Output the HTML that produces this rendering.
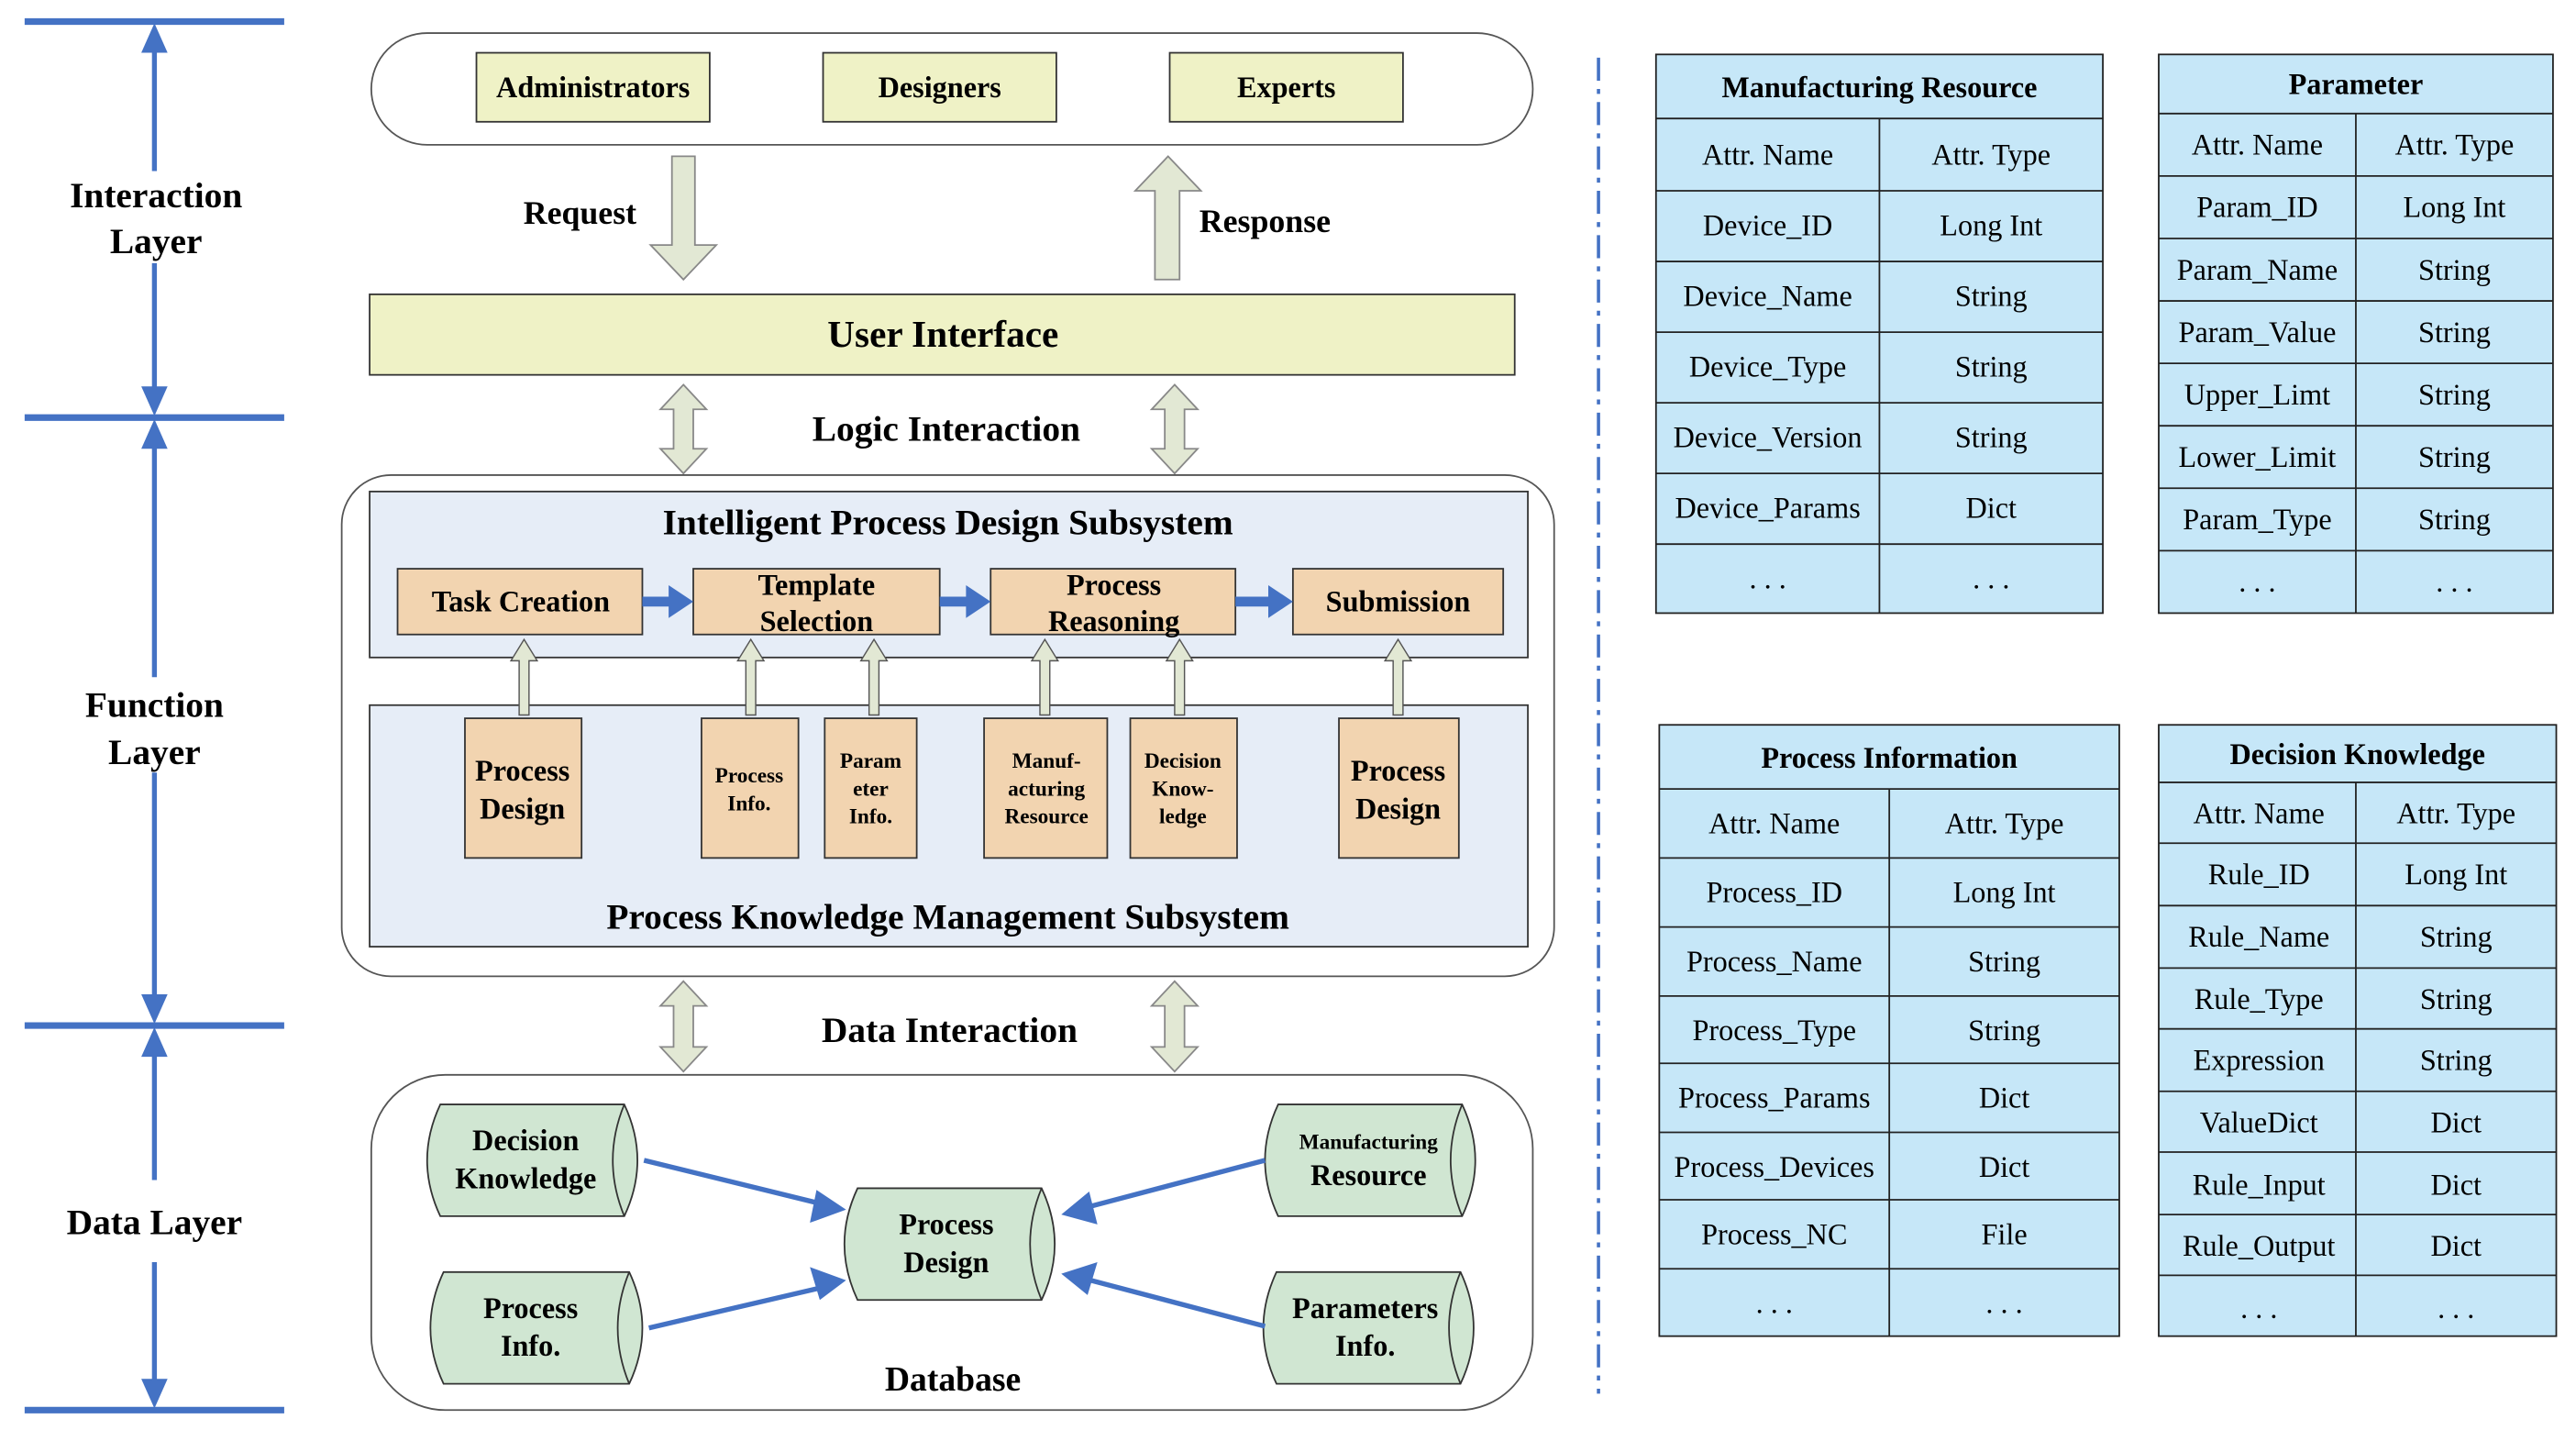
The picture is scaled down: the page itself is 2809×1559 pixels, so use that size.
<!DOCTYPE html>
<html><head><meta charset="utf-8"><style>
html,body{margin:0;padding:0;background:#fff}
svg{display:block}
text{font-family:"Liberation Serif",serif}
.b{font-weight:bold}
</style></head><body>
<svg width="2809" height="1559" viewBox="0 0 1568 870" xmlns="http://www.w3.org/2000/svg">
<defs>
<marker id="ah" markerWidth="6" markerHeight="6" refX="5" refY="3" orient="auto" markerUnits="strokeWidth"><path d="M0,0 L6,3 L0,6 z" fill="#4472C4"/></marker>
</defs>
<!-- left axis -->
<g stroke="#4472C4" stroke-width="4">
<line x1="15" y1="13" x2="173" y2="13"/><line x1="15" y1="254" x2="173" y2="254"/>
<line x1="15" y1="624" x2="173" y2="624"/><line x1="15" y1="858" x2="173" y2="858"/>
</g>
<g stroke="#4472C4" stroke-width="3">
<line x1="94" y1="28" x2="94" y2="104"/><line x1="94" y1="160" x2="94" y2="240"/>
<line x1="94" y1="270" x2="94" y2="412"/><line x1="94" y1="470" x2="94" y2="610"/>
<line x1="94" y1="640" x2="94" y2="718"/><line x1="94" y1="768" x2="94" y2="842"/>
</g>
<g fill="#4472C4">
<path d="M94,14 L86,32 L102,32z"/><path d="M94,253 L86,235 L102,235z"/>
<path d="M94,255 L86,273 L102,273z"/><path d="M94,623 L86,605 L102,605z"/>
<path d="M94,625 L86,643 L102,643z"/><path d="M94,857 L86,839 L102,839z"/>
</g>
<g class="b" font-size="22" text-anchor="middle">
<text x="95" y="126" class="b">Interaction</text><text x="95" y="154" class="b">Layer</text>
<text x="94" y="436" class="b">Function</text><text x="94" y="465" class="b">Layer</text>
<text x="94" y="751" class="b">Data Layer</text>
</g>
<!-- dash-dot separator -->
<line x1="973" y1="35" x2="973" y2="848" stroke="#4472C4" stroke-width="2" stroke-dasharray="14,5,3,5"/>

<!-- interaction top -->
<rect x="226" y="20" width="707" height="68" rx="34" fill="#fff" stroke="#555" stroke-width="1"/>
<g fill="#eff2c6" stroke="#333" stroke-width="1">
<rect x="290" y="32" width="142" height="42"/><rect x="501" y="32" width="142" height="42"/><rect x="712" y="32" width="142" height="42"/>
</g>
<g font-size="18" text-anchor="middle" font-weight="bold">
<text x="361" y="59">Administrators</text><text x="572" y="59">Designers</text><text x="783" y="59">Experts</text>
</g>
<!-- request/response -->
<path d="M409,95 L423,95 L423,149 L436,149 L416,170 L396,149 L409,149z" fill="#e2e8d4" stroke="#888"/>
<path d="M703,170 L718,170 L718,116 L731,116 L711,95 L691,116 L703,116z" fill="#e2e8d4" stroke="#888"/>
<text x="353" y="136" font-size="20" font-weight="bold" text-anchor="middle">Request</text>
<text x="770" y="141" font-size="20" font-weight="bold" text-anchor="middle">Response</text>
<rect x="225" y="179" width="697" height="49" fill="#eff2c6" stroke="#333"/>
<text x="574" y="211" font-size="23" font-weight="bold" text-anchor="middle">User Interface</text>
<!-- double arrows -->
<g fill="#e2e8d4" stroke="#888">
<path d="M416,234 L430,249 L422,249 L422,273 L430,273 L416,288 L402,273 L410,273 L410,249 L402,249z"/>
<path d="M715,234 L729,249 L721,249 L721,273 L729,273 L715,288 L701,273 L709,273 L709,249 L701,249z"/>
<path d="M416,597 L430,612 L422,612 L422,637 L430,637 L416,652 L402,637 L410,637 L410,612 L402,612z"/>
<path d="M715,597 L729,612 L721,612 L721,637 L729,637 L715,652 L701,637 L709,637 L709,612 L701,612z"/>
</g>
<text x="576" y="268" font-size="22" font-weight="bold" text-anchor="middle">Logic Interaction</text>
<text x="578" y="634" font-size="22" font-weight="bold" text-anchor="middle">Data Interaction</text>

<!-- function layer -->
<rect x="208" y="289" width="738" height="305" rx="30" fill="#fff" stroke="#555"/>
<rect x="225" y="299" width="705" height="101" fill="#e6edf7" stroke="#333"/>
<rect x="225" y="429" width="705" height="147" fill="#e6edf7" stroke="#333"/>
<text x="577" y="325" font-size="22" font-weight="bold" text-anchor="middle">Intelligent Process Design Subsystem</text>
<text x="577" y="565" font-size="22" font-weight="bold" text-anchor="middle">Process Knowledge Management Subsystem</text>
<g fill="#f2d4b0" stroke="#333">
<rect x="242" y="346" width="149" height="40"/><rect x="422" y="346" width="150" height="40"/>
<rect x="603" y="346" width="149" height="40"/><rect x="787" y="346" width="128" height="40"/>
<rect x="283" y="437" width="71" height="85"/><rect x="427" y="437" width="59" height="85"/>
<rect x="502" y="437" width="56" height="85"/><rect x="599" y="437" width="75" height="85"/>
<rect x="688" y="437" width="65" height="85"/><rect x="815" y="437" width="73" height="85"/>
</g>
<g font-weight="bold" text-anchor="middle" font-size="18">
<text x="317" y="372">Task Creation</text>
<text x="497" y="362">Template</text><text x="497" y="384">Selection</text>
<text x="678" y="362">Process</text><text x="678" y="384">Reasoning</text>
<text x="851" y="372">Submission</text>
<text x="318" y="475">Process</text><text x="318" y="498">Design</text>
<text x="851" y="475">Process</text><text x="851" y="498">Design</text>
</g>
<g font-weight="bold" text-anchor="middle" font-size="13">
<text x="456" y="476">Process</text><text x="456" y="493">Info.</text>
<text x="530" y="467">Param</text><text x="530" y="484">eter</text><text x="530" y="501">Info.</text>
<text x="637" y="467">Manuf-</text><text x="637" y="484">acturing</text><text x="637" y="501">Resource</text>
<text x="720" y="467">Decision</text><text x="720" y="484">Know-</text><text x="720" y="501">ledge</text>
</g>
<!-- blue flow arrows -->
<g fill="#4472C4">
<path d="M391,363 L407,363 L407,356 L422,366 L407,376 L407,369 L391,369z"/>
<path d="M572,363 L588,363 L588,356 L603,366 L588,376 L588,369 L572,369z"/>
<path d="M752,363 L772,363 L772,356 L787,366 L772,376 L772,369 L752,369z"/>
</g>
<!-- up hollow arrows -->
<g fill="#e2e8d4" stroke="#555" stroke-width="0.8">
<path d="M316,435 L322,435 L322,402 L327,402 L319,389 L311,402 L316,402z"/>
<path d="M454,435 L460,435 L460,402 L465,402 L457,389 L449,402 L454,402z"/>
<path d="M529,435 L535,435 L535,402 L540,402 L532,389 L524,402 L529,402z"/>
<path d="M633,435 L639,435 L639,402 L644,402 L636,389 L628,402 L633,402z"/>
<path d="M715,435 L721,435 L721,402 L726,402 L718,389 L710,402 L715,402z"/>
<path d="M848,435 L854,435 L854,402 L859,402 L851,389 L843,402 L848,402z"/>
</g>

<!-- data layer -->
<rect x="226" y="654" width="707" height="204" rx="45" fill="#fff" stroke="#555"/>
<g fill="#d0e6d2" stroke="#333">
<path d="M268,672 L380,672 Q396,706 380,740 L268,740 Q252,706 268,672z"/><path d="M380,672 Q366,706 380,740" fill="none"/>
<path d="M270,774 L383,774 Q399,808 383,842 L270,842 Q254,808 270,774z"/><path d="M383,774 Q369,808 383,842" fill="none"/>
<path d="M522,723 L634,723 Q650,757 634,791 L522,791 Q506,757 522,723z"/><path d="M634,723 Q620,757 634,791" fill="none"/>
<path d="M778,672 L890,672 Q906,706 890,740 L778,740 Q762,706 778,672z"/><path d="M890,672 Q876,706 890,740" fill="none"/>
<path d="M777,774 L889,774 Q905,808 889,842 L777,842 Q761,808 777,774z"/><path d="M889,774 Q875,808 889,842" fill="none"/>
</g>
<g font-weight="bold" text-anchor="middle" font-size="18">
<text x="320" y="700">Decision</text><text x="320" y="723">Knowledge</text>
<text x="323" y="802">Process</text><text x="323" y="825">Info.</text>
<text x="576" y="751">Process</text><text x="576" y="774">Design</text>
<text x="833" y="721">Resource</text>
<text x="831" y="802">Parameters</text><text x="831" y="825">Info.</text>
<text x="580" y="846" font-size="21">Database</text>
</g>
<text x="833" y="699" font-weight="bold" text-anchor="middle" font-size="13">Manufacturing</text>
<g stroke="#4472C4" stroke-width="3" fill="none">
<line x1="392" y1="706" x2="502" y2="733"/><line x1="395" y1="808" x2="502" y2="783"/>
<line x1="770" y1="706" x2="660" y2="735"/><line x1="770" y1="807" x2="660" y2="778"/>
</g>
<g fill="#4472C4">
<path d="M515,736 L497,724 L493,744z"/><path d="M515,779 L493,771 L499,791z"/>
<path d="M646,739 L663,725 L668,745z"/><path d="M646,775 L668,768 L662,788z"/>
</g>

<!-- tables -->
<g fill="#c6e7f8" stroke="#222" stroke-width="1">
<rect x="1008" y="33" width="272" height="340"/>
<rect x="1314" y="33" width="240" height="340"/>
<rect x="1010" y="441" width="280" height="372"/>
<rect x="1314" y="441" width="242" height="372"/>
</g>
<g stroke="#222" stroke-width="1">
<!-- MR -->
<line x1="1008" y1="72" x2="1280" y2="72"/><line x1="1008" y1="116" x2="1280" y2="116"/><line x1="1008" y1="159" x2="1280" y2="159"/><line x1="1008" y1="202" x2="1280" y2="202"/><line x1="1008" y1="245" x2="1280" y2="245"/><line x1="1008" y1="288" x2="1280" y2="288"/><line x1="1008" y1="331" x2="1280" y2="331"/><line x1="1144" y1="72" x2="1144" y2="373"/>
<!-- Param -->
<line x1="1314" y1="69" x2="1554" y2="69"/><line x1="1314" y1="107" x2="1554" y2="107"/><line x1="1314" y1="145" x2="1554" y2="145"/><line x1="1314" y1="183" x2="1554" y2="183"/><line x1="1314" y1="221" x2="1554" y2="221"/><line x1="1314" y1="259" x2="1554" y2="259"/><line x1="1314" y1="297" x2="1554" y2="297"/><line x1="1314" y1="335" x2="1554" y2="335"/><line x1="1434" y1="69" x2="1434" y2="373"/>
<!-- PI -->
<line x1="1010" y1="480" x2="1290" y2="480"/><line x1="1010" y1="522" x2="1290" y2="522"/><line x1="1010" y1="564" x2="1290" y2="564"/><line x1="1010" y1="606" x2="1290" y2="606"/><line x1="1010" y1="647" x2="1290" y2="647"/><line x1="1010" y1="689" x2="1290" y2="689"/><line x1="1010" y1="730" x2="1290" y2="730"/><line x1="1010" y1="772" x2="1290" y2="772"/><line x1="1150" y1="480" x2="1150" y2="813"/>
<!-- DK -->
<line x1="1314" y1="476" x2="1556" y2="476"/><line x1="1314" y1="513" x2="1556" y2="513"/><line x1="1314" y1="551" x2="1556" y2="551"/><line x1="1314" y1="589" x2="1556" y2="589"/><line x1="1314" y1="626" x2="1556" y2="626"/><line x1="1314" y1="664" x2="1556" y2="664"/><line x1="1314" y1="701" x2="1556" y2="701"/><line x1="1314" y1="739" x2="1556" y2="739"/><line x1="1314" y1="776" x2="1556" y2="776"/><line x1="1434" y1="476" x2="1434" y2="813"/>
</g>
<g font-size="18" text-anchor="middle">
<text x="1144" y="59" font-weight="bold">Manufacturing Resource</text>
<text x="1076" y="100">Attr. Name</text><text x="1212" y="100">Attr. Type</text>
<text x="1076" y="143">Device_ID</text><text x="1212" y="143">Long Int</text>
<text x="1076" y="186">Device_Name</text><text x="1212" y="186">String</text>
<text x="1076" y="229">Device_Type</text><text x="1212" y="229">String</text>
<text x="1076" y="272">Device_Version</text><text x="1212" y="272">String</text>
<text x="1076" y="315">Device_Params</text><text x="1212" y="315">Dict</text>
<text x="1076" y="358">. . .</text><text x="1212" y="358">. . .</text>

<text x="1434" y="57" font-weight="bold">Parameter</text>
<text x="1374" y="94">Attr. Name</text><text x="1494" y="94">Attr. Type</text>
<text x="1374" y="132">Param_ID</text><text x="1494" y="132">Long Int</text>
<text x="1374" y="170">Param_Name</text><text x="1494" y="170">String</text>
<text x="1374" y="208">Param_Value</text><text x="1494" y="208">String</text>
<text x="1374" y="246">Upper_Limt</text><text x="1494" y="246">String</text>
<text x="1374" y="284">Lower_Limit</text><text x="1494" y="284">String</text>
<text x="1374" y="322">Param_Type</text><text x="1494" y="322">String</text>
<text x="1374" y="360">. . .</text><text x="1494" y="360">. . .</text>

<text x="1150" y="467" font-weight="bold">Process Information</text>
<text x="1080" y="507">Attr. Name</text><text x="1220" y="507">Attr. Type</text>
<text x="1080" y="549">Process_ID</text><text x="1220" y="549">Long Int</text>
<text x="1080" y="591">Process_Name</text><text x="1220" y="591">String</text>
<text x="1080" y="633">Process_Type</text><text x="1220" y="633">String</text>
<text x="1080" y="674">Process_Params</text><text x="1220" y="674">Dict</text>
<text x="1080" y="716">Process_Devices</text><text x="1220" y="716">Dict</text>
<text x="1080" y="757">Process_NC</text><text x="1220" y="757">File</text>
<text x="1080" y="799">. . .</text><text x="1220" y="799">. . .</text>

<text x="1435" y="465" font-weight="bold">Decision Knowledge</text>
<text x="1375" y="501">Attr. Name</text><text x="1495" y="501">Attr. Type</text>
<text x="1375" y="538">Rule_ID</text><text x="1495" y="538">Long Int</text>
<text x="1375" y="576">Rule_Name</text><text x="1495" y="576">String</text>
<text x="1375" y="614">Rule_Type</text><text x="1495" y="614">String</text>
<text x="1375" y="651">Expression</text><text x="1495" y="651">String</text>
<text x="1375" y="689">ValueDict</text><text x="1495" y="689">Dict</text>
<text x="1375" y="727">Rule_Input</text><text x="1495" y="727">Dict</text>
<text x="1375" y="764">Rule_Output</text><text x="1495" y="764">Dict</text>
<text x="1375" y="802">. . .</text><text x="1495" y="802">. . .</text>
</g>
</svg>
</body></html>
